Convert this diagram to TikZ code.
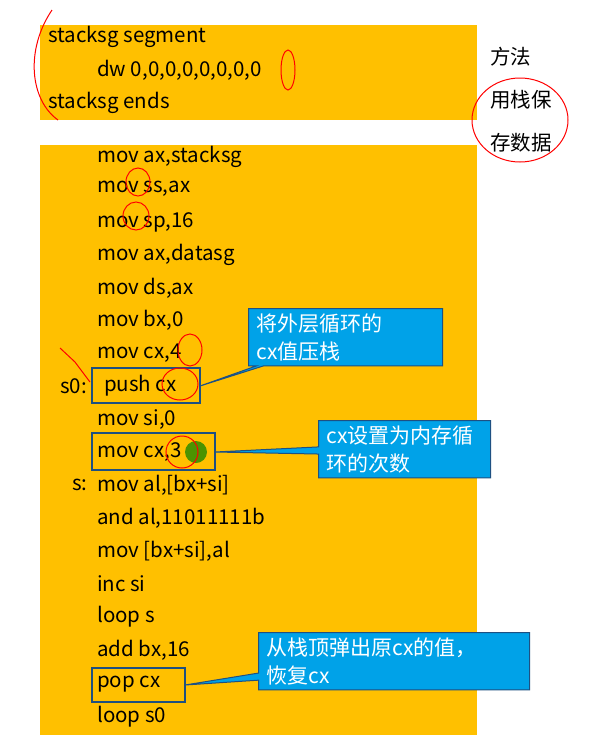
\documentclass[tikz,border=0pt]{standalone}
\usepackage{fontspec}
\setmainfont{Noto Sans CJK SC}
\usetikzlibrary{shapes.callouts}
\definecolor{slideyellow}{RGB}{255,192,0}
\definecolor{tipblue}{RGB}{0,162,232}
\definecolor{tipborder}{RGB}{30,80,130}
\tikzset{
  code/.style={anchor=west, inner sep=0pt, font=\fontsize{20.5}{24}\selectfont},
  mark box/.style={draw=tipborder, line width=1.6pt},
  tip/.style={rectangle callout, fill=tipblue, draw=tipborder, line width=1pt,
    text=white, align=left, anchor=north west, inner xsep=8pt, inner ysep=5pt,
    font=\fontsize{21}{28}\selectfont},
  pen/.style={draw=red, line width=1pt}
}
\begin{document}
\begin{tikzpicture}[x=1pt,y=-1pt]
  \useasboundingbox (0,0) rectangle (600,748);
  \fill[white] (0,0) rectangle (600,748);
  % the two slide panels
  \fill[slideyellow] (40,25) rectangle (477,120);
  \fill[slideyellow] (40,145) rectangle (477,735);

  \node[code] (seg)  at (48,37)  {stacksg segment};
  \node[code] (dw)   at (97,70)  {dw 0,0,0,0,0,0,0,0};
  \node[code] (ends) at (48,103) {stacksg ends};

  \node[code] at (490,57)  {方法};
  \node[code] at (490,100) {用栈保};
  \node[code] at (490,143) {存数据};

  \node[code] (l1)  at (97,157) {mov ax,stacksg};
  \node[code] (l2)  at (97,189) {mov ss,ax};
  \node[code] (l3)  at (97,222) {mov sp,16};
  \node[code] (l4)  at (97,255) {mov ax,datasg};
  \node[code] (l5)  at (97,288) {mov ds,ax};
  \node[code] (l6)  at (97,320) {mov bx,0};
  \node[code] (l7)  at (97,353) {mov cx,4};
  \node[code] (s0)  at (60,386) {s0:};
  \node[code] (l8)  at (104,386) {push cx};
  \node[code] (l9)  at (97,419) {mov si,0};
  \node[code] (l10) at (97,452) {mov cx,3};
  \node[code] (s)   at (72,485) {s:};
  \node[code] (l11) at (97,485) {mov al,[bx+si]};
  \node[code] (l12) at (97,518) {and al,11011111b};
  \node[code] (l13) at (97,551) {mov [bx+si],al};
  \node[code] (l14) at (97,584) {inc si};
  \node[code] (l15) at (97,617) {loop s};
  \node[code] (l16) at (97,650) {add bx,16};
  \node[code] (l17) at (97,684) {pop cx};
  \node[code] (l18) at (97,717) {loop s0};

  % marked lines
  \draw[mark box] (92,368) rectangle (200,403);
  \draw[mark box] (92,433) rectangle (215,470);
  \draw[mark box] (92,668) rectangle (185,702);

  % callouts
  \node[tip, text width=178pt, callout absolute pointer={(200,386)}] (t1) at (248,308)
    {将外层循环的\\cx值压栈};
  \node[tip, text width=156pt, callout absolute pointer={(215,452)}] (t2) at (318,420)
    {cx设置为内存循\\环的次数};
  \node[tip, text width=255pt, callout absolute pointer={(185,685)}] (t3) at (258,632)
    {从栈顶弹出原cx的值，\\恢复cx};

  % pen marks
  \fill[green!50!black, opacity=0.7] (196,452) circle (11);
  \draw[pen] (52,10) .. controls (25,50) and (30,100) .. (58,120);
  \draw[pen] (288,70) ellipse (7 and 20);
  \draw[pen] (520,120) ellipse (48 and 42);
  \draw[pen] (138,182) ellipse (12 and 14);
  \draw[pen] (136,216) ellipse (13 and 14);
  \draw[pen] (190,350) ellipse (12 and 16);
  \draw[pen] (180,384) ellipse (18 and 16);
  \draw[pen] (182,452) ellipse (16 and 16);
  \draw[pen] (60,348) -- (75,362) -- (90,382);
\end{tikzpicture}
\end{document}
